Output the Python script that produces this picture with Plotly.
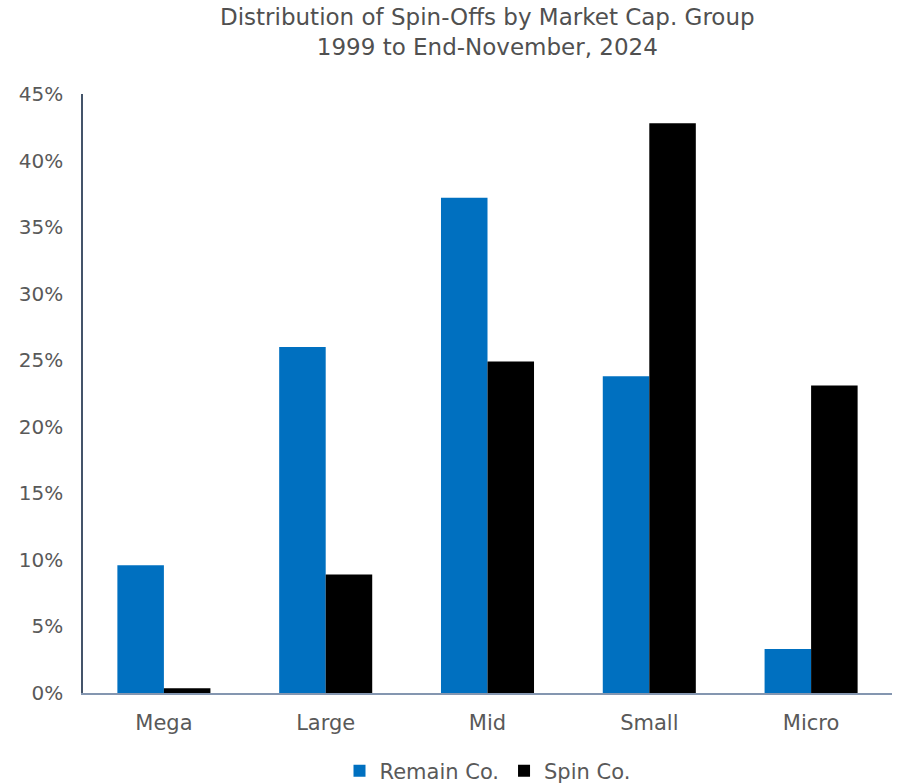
import plotly.graph_objects as go

categories = ["Mega", "Large", "Mid", "Small", "Micro"]
remain_co = [9.6, 26.0, 37.2, 23.8, 3.3]
spin_co = [0.35, 8.9, 24.9, 42.8, 23.1]
tick_vals = [0, 5, 10, 15, 20, 25, 30, 35, 40, 45]
tick_text = [f"{v}%" for v in tick_vals]
title_lines = ["Distribution of Spin-Offs by Market Cap. Group", "1999 to End-November, 2024"]

font_family = "DejaVu Sans, sans-serif"
text_color = "#595959"

fig = go.Figure()
fig.add_trace(go.Bar(name="Remain Co.", x=categories, y=remain_co,
                     marker=dict(color="#0070C0", line=dict(width=0))))
fig.add_trace(go.Bar(name="Spin Co.", x=categories, y=spin_co,
                     marker=dict(color="#000000", line=dict(width=0))))

fig.add_annotation(text="<br>".join(title_lines), xref="paper", yref="paper",
                   x=0.5, y=1.0, yshift=92, xanchor="center", yanchor="top",
                   showarrow=False, align="center",
                   font=dict(size=23, color="#505050", family=font_family))

fig.update_layout(
    width=902, height=784,
    barmode="group", bargap=0.425, bargroupgap=0,
    plot_bgcolor="white", paper_bgcolor="white",
    margin=dict(l=83, r=10, t=94, b=91, autoexpand=False),
    font=dict(family=font_family, color=text_color, size=20),
    legend=dict(orientation="h", x=0.5, xanchor="center",
                yref="paper", y=-0.096, yanchor="top",
                font=dict(size=21, color=text_color),
                traceorder="normal", itemwidth=30),
    showlegend=True,
)
fig.update_yaxes(range=[0, 45], tickvals=tick_vals, ticktext=tick_text,
                 showgrid=False, zeroline=False, showline=True,
                 linecolor="#44546A", linewidth=1.5, ticks="", ticklabelstandoff=14,
                 tickfont=dict(size=20))
fig.update_xaxes(showgrid=False, showline=True, linecolor="#8496B0", linewidth=1.5,
                 ticks="", ticklabelstandoff=10, tickfont=dict(size=21))

fig.write_html("out.html")
